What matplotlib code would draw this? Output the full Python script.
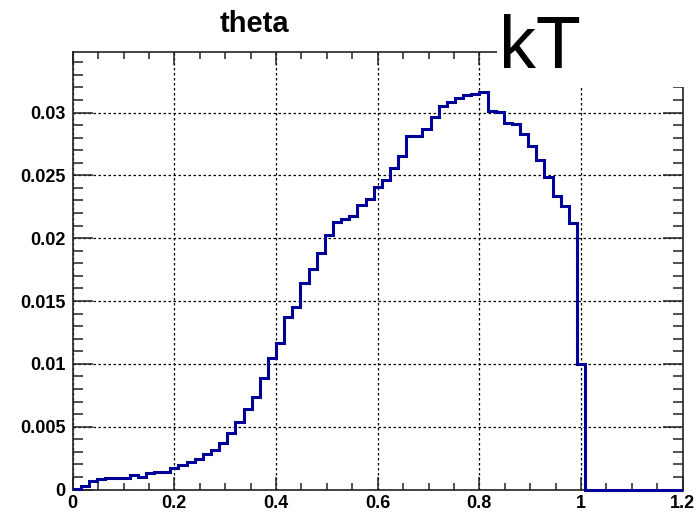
import numpy as np
import matplotlib
matplotlib.use('Agg')
import matplotlib.pyplot as plt
from matplotlib.patches import Rectangle
from matplotlib.ticker import MultipleLocator, FuncFormatter

plt.rcParams['font.family'] = ['Liberation Sans', 'DejaVu Sans']

# histogram "theta": 75 bins of width 0.016 on [0, 1.2], normalised to 1
x_lo, x_hi, n_bins = 0.0, 1.2, 75
theta_vals = [
    0.00005, 0.00028, 0.00068, 0.00081, 0.00089, 0.00094, 0.00094, 0.00118,
    0.00102, 0.00134, 0.00142, 0.00142, 0.00169, 0.00195, 0.00219, 0.00240,
    0.00280, 0.00312, 0.00368, 0.00447, 0.00535, 0.00642, 0.00738, 0.00888,
    0.01049, 0.01163, 0.01375, 0.01450, 0.01640, 0.01752, 0.01879, 0.02025,
    0.02130, 0.02150, 0.02180, 0.02260, 0.02309, 0.02409, 0.02465, 0.02555,
    0.02650, 0.02812, 0.02812, 0.02867, 0.02963, 0.03051, 0.03085, 0.03112,
    0.03136, 0.03146, 0.03165, 0.03014, 0.03006, 0.02918, 0.02908, 0.02826,
    0.02733, 0.02621, 0.02484, 0.02337, 0.02255, 0.02122, 0.00996, 0.0,
    0.0, 0.0, 0.0, 0.0, 0.0, 0.0, 0.0, 0.0, 0.0, 0.0, 0.0,
]
edges = np.linspace(x_lo, x_hi, n_bins + 1)
y_max = 1.1 * max(theta_vals)

W, H = 700, 514
fig = plt.figure(figsize=(W / 100, H / 100), dpi=100)
ax = fig.add_axes([72.7 / W, 1 - 489.5 / H, 610 / W, 437.5 / H])

# not clipped, so the empty bins show as a blue line on the bottom frame
ax.stairs(theta_vals, edges, color='#000099', linewidth=2.2, baseline=None,
          zorder=3, clip_on=False)

ax.set_xlim(x_lo, x_hi)
ax.set_ylim(0, y_max)

ax.xaxis.set_major_locator(MultipleLocator(0.2))
ax.xaxis.set_minor_locator(MultipleLocator(0.05))
ax.yaxis.set_major_locator(MultipleLocator(0.005))
ax.yaxis.set_minor_locator(MultipleLocator(0.001))
fmt = FuncFormatter(lambda v, p: f'{v:g}')
ax.xaxis.set_major_formatter(fmt)
ax.yaxis.set_major_formatter(fmt)

ax.tick_params(which='both', direction='in', top=True, right=True,
               width=1.1, color='#222222')
ax.xaxis.set_tick_params(which='major', length=9.5, pad=4)
ax.xaxis.set_tick_params(which='minor', length=5)
ax.yaxis.set_tick_params(which='major', length=14.5, pad=5)
ax.yaxis.set_tick_params(which='minor', length=7)
for lab in ax.get_xticklabels() + ax.get_yticklabels():
    lab.set_fontsize(13)
    lab.set_fontweight('bold')

ax.grid(True, which='major', color='black', linestyle=(0, (2, 2)), linewidth=0.9)
for s in ax.spines.values():
    s.set_linewidth(1.2)
    s.set_color('#222222')

fig.text(254 / W, 1 - 32 / H, 'theta', fontsize=21, fontweight='bold',
         ha='center', va='baseline')

# white pave with the big label, drawn over the frame corner
fig.add_artist(Rectangle((497 / W, 1 - 87 / H), (W - 497) / W, 87 / H,
                         transform=fig.transFigure, facecolor='white',
                         edgecolor='none', zorder=5))
fig.text(499 / W, 1 - 68 / H, 'kT', fontsize=53, ha='left', va='baseline',
         zorder=6)

fig.savefig('out.png', dpi=100)
